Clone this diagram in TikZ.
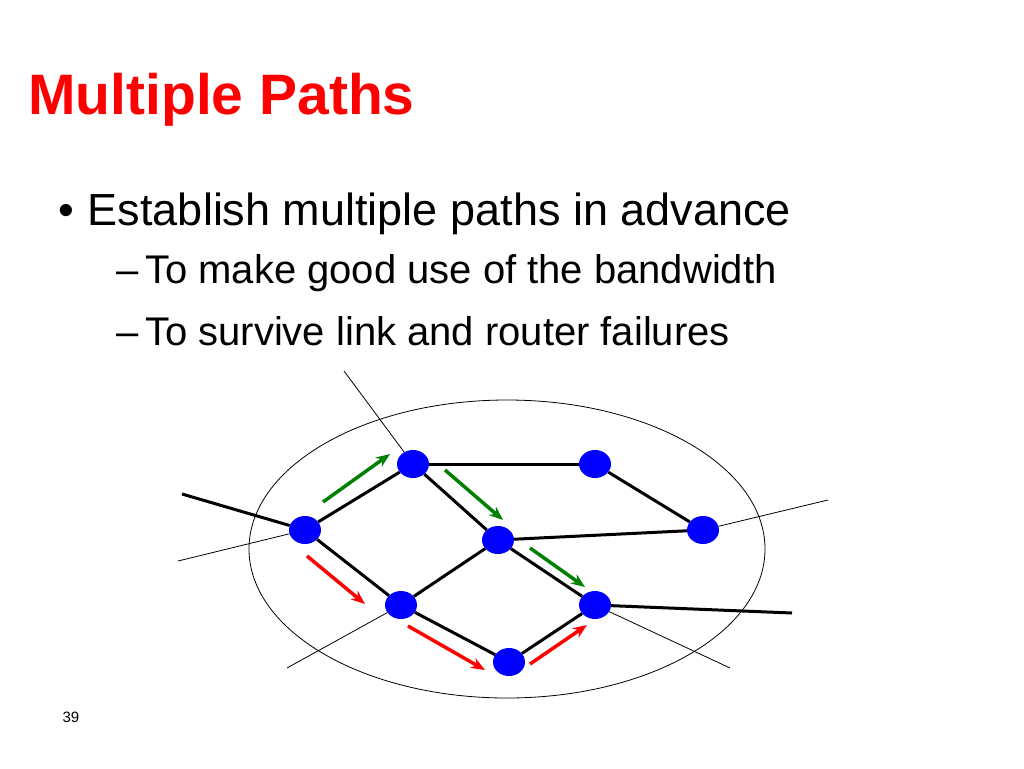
\documentclass[tikz,border=0pt]{standalone}
\usepackage{fontspec}
\setmainfont{Liberation Sans}
\usetikzlibrary{arrows.meta,shapes.geometric}
\definecolor{titlered}{RGB}{255,0,0}
\definecolor{pathgreen}{RGB}{0,128,0}
\tikzset{
  router/.style={ellipse,fill=blue,minimum width=32pt,minimum height=28pt,inner sep=0pt},
  link/.style={line width=3pt},
  stub/.style={line width=0.8pt},
  flow/.style={-{Stealth[length=14pt,width=11pt]},line width=3.5pt}
}
\begin{document}
\begin{tikzpicture}[x=1pt,y=-1pt]
\useasboundingbox (0,0) rectangle (1024,768);
\node[anchor=west,inner sep=0pt,text=titlered,font=\bfseries\fontsize{57}{66}\selectfont] (title) at (28,100) {Multiple Paths};
\node[anchor=west,inner sep=0pt,font=\fontsize{45}{52}\selectfont] (b1) at (58,214) {\textbullet\hspace{14pt}Establish multiple paths in advance};
\node[anchor=west,inner sep=0pt,font=\fontsize{40}{46}\selectfont] (b2) at (116,273) {--\,To make good use of the bandwidth};
\node[anchor=west,inner sep=0pt,font=\fontsize{40}{46}\selectfont] (b3) at (116,331) {--\,To survive link and router failures};
\node[font=\fontsize{15}{18}\selectfont] (page) at (71,717) {39};
% network
\draw[line width=0.8pt] (507,549) ellipse (258 and 149);
\node[router] (A) at (305,530) {};
\node[router] (B) at (413,464) {};
\node[router] (C) at (595,464) {};
\node[router] (D) at (498,540) {};
\node[router] (E) at (703,530) {};
\node[router] (F) at (401,605) {};
\node[router] (G) at (595,605) {};
\node[router] (H) at (509,662) {};
\foreach \a/\b in {A/B,A/F,B/C,B/D,C/E,D/E,D/F,D/G,F/H,H/G}
  \draw[link] (\a) -- (\b);
\draw[link] (182,494) -- (A);
\draw[stub] (178,561) -- (A);
\draw[stub] (344,371) -- (B);
\draw[stub] (E) -- (828,500);
\draw[link] (G) -- (792,613);
\draw[stub] (G) -- (730,668);
\draw[stub] (F) -- (287,668);
% flows
\draw[flow,pathgreen] (323,502) -- (390,454);
\draw[flow,pathgreen] (445,470) -- (503,520);
\draw[flow,pathgreen] (530,548) -- (585,587);
\draw[flow,red] (307,556) -- (365,604);
\draw[flow,red] (408,626) -- (485,670);
\draw[flow,red] (530,664) -- (587,625);
\end{tikzpicture}
\end{document}
